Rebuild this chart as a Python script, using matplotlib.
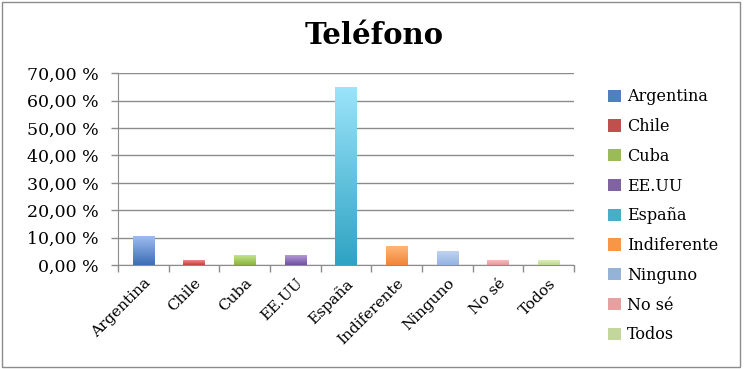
import numpy as np
import matplotlib.pyplot as plt
from matplotlib.colors import LinearSegmentedColormap
from matplotlib.patches import Rectangle

# Encuesta: país preferido para el teléfono (%)
paises = ["Argentina", "Chile", "Cuba", "EE.UU", "España",
          "Indiferente", "Ninguno", "No sé", "Todos"]
porcentajes = [10.53, 1.75, 3.51, 3.51, 64.91, 7.02, 5.26, 1.75, 1.75]
ticks_y = [0, 10, 20, 30, 40, 50, 60, 70]

# colores (arriba claro, abajo oscuro)
col_arriba = ["#9dbdf0", "#f08a88", "#c4e48a", "#b49ad6", "#9be4fa",
              "#ffb97a", "#c3d5f2", "#f5bcbc", "#ddefb8"]
col_abajo = ["#3c6db4", "#c0403c", "#8bb23f", "#7050a0", "#2fa3c2",
             "#f0853a", "#95b3e0", "#e39a9a", "#bcd98e"]
col_leyenda = ["#4f81bd", "#c0504d", "#9bbb59", "#8064a2", "#4bacc6",
               "#f79646", "#95b3d7", "#e6a0a0", "#c3d69b"]

plt.rcParams['font.family'] = ['DejaVu Serif']

fig = plt.figure(figsize=(7.44, 3.69), dpi=100)
ax = fig.add_axes([0.1586, 0.2818, 0.6129, 0.5196])

x = np.arange(len(paises))
ancho = 0.42
barras = ax.bar(x, porcentajes, width=ancho, color="none", edgecolor="none", zorder=3)
grad = np.linspace(1, 0, 256).reshape(-1, 1)
for b, c1, c2, lab, cl in zip(barras, col_arriba, col_abajo, paises, col_leyenda):
    cmap = LinearSegmentedColormap.from_list("g", [c2, c1])
    x0 = b.get_x()
    im = ax.imshow(grad, cmap=cmap, aspect="auto", zorder=3,
                   extent=[x0, x0 + b.get_width(), 0, b.get_height()])
    im.set_clip_path(b)
    ax.bar([0], [0], color=cl, label=lab)

ax.set_xlim(-0.5, len(paises) - 0.5)
ax.set_ylim(0, 70)
ax.set_yticks(ticks_y)
ax.set_yticklabels([f"{v:.2f}".replace(".", ",") + " %" for v in ticks_y], fontsize=12.5)
ax.yaxis.grid(True, color="#8c8c8c", linewidth=1.0, zorder=0)
ax.set_axisbelow(True)

ax.set_xticks(x)
ax.set_xticklabels(paises, rotation=45, ha="right", rotation_mode="anchor", fontsize=11)
ax.tick_params(axis="x", which="major", length=0, pad=8)
ax.set_xticks(np.arange(-0.5, len(paises)), minor=True)
ax.tick_params(axis="x", which="minor", length=5, color="#8c8c8c", width=1)
ax.tick_params(axis="y", length=5, color="#8c8c8c", width=1, pad=9)

for s in ["top", "right"]:
    ax.spines[s].set_visible(False)
ax.spines["left"].set_color("#8c8c8c")
ax.spines["bottom"].set_color("#8c8c8c")

fig.text(0.503, 0.905, "Teléfono", fontsize=21, fontweight="bold",
         ha="center", va="center")

fig.legend(loc="upper left", bbox_to_anchor=(0.798, 0.8), frameon=False,
           fontsize=11.5, handlelength=0.8, handleheight=0.8, handletextpad=0.4,
           labelspacing=0.8)

fig.patches.append(Rectangle((0.003, 0.005), 0.992, 0.99, transform=fig.transFigure,
                             fill=False, edgecolor="#8c8c8c", linewidth=1))

fig.savefig("out.png", dpi=100)
